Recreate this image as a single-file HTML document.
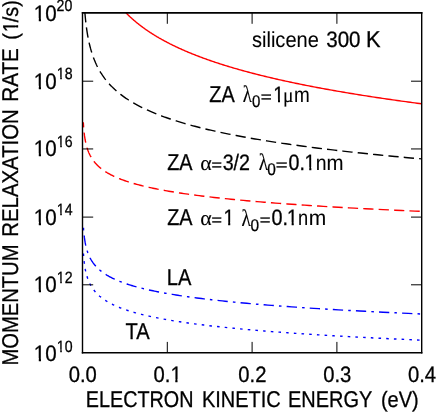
<!DOCTYPE html>
<html><head><meta charset="utf-8"><title>Momentum relaxation rate vs electron kinetic energy (silicene 300 K)</title><style>
html,body{margin:0;padding:0;background:#fff;}
svg{display:block;}
.t{filter:blur(0.35px);}
text{font-family:"Liberation Sans",sans-serif;fill:#000;stroke:#000;stroke-width:0.3px;text-rendering:geometricPrecision;}
</style></head><body>
<svg width="436" height="413" viewBox="0 0 436 413">
<rect width="436" height="413" fill="#fff"/>
<defs><clipPath id="c"><rect x="82.5" y="12.9" width="339.2" height="339.8"/></clipPath>
<clipPath id="o22_2"><path d="M-2,-30H30V-2.78H7.76V2H5.38V-2.78H-2Z"/></clipPath>
<clipPath id="o16_3"><path d="M-2,-30H30V-2.30H5.72V2H3.93V-2.30H-2Z"/></clipPath>
<clipPath id="o21_6"><path d="M-2,-30H30V-2.73H7.55V2H5.24V-2.73H-2Z"/></clipPath>
<clipPath id="o22_3"><path d="M-2,-30H30V-2.78H7.79V2H5.41V-2.78H-2Z"/></clipPath>
</defs>
<g clip-path="url(#c)" fill="none" stroke-width="1.4">
<path d="M126.03,12.90 L126.33,13.20 L126.63,13.51 L126.93,13.81 L127.23,14.11 L127.54,14.42 L127.85,14.72 L128.16,15.02 L128.48,15.32 L128.79,15.63 L129.11,15.93 L129.43,16.23 L129.75,16.54 L130.08,16.84 L130.40,17.14 L130.73,17.45 L131.06,17.75 L131.40,18.05 L131.73,18.35 L132.07,18.66 L132.41,18.96 L132.75,19.26 L133.10,19.57 L133.45,19.87 L133.80,20.17 L134.15,20.48 L134.50,20.78 L134.86,21.08 L135.22,21.38 L135.58,21.69 L135.95,21.99 L136.31,22.29 L136.68,22.60 L137.06,22.90 L137.43,23.20 L137.81,23.51 L138.19,23.81 L138.57,24.11 L138.96,24.41 L139.34,24.72 L139.73,25.02 L140.13,25.32 L140.52,25.63 L140.92,25.93 L141.32,26.23 L141.73,26.54 L142.13,26.84 L142.54,27.14 L142.95,27.44 L143.37,27.75 L143.79,28.05 L144.21,28.35 L144.63,28.66 L145.06,28.96 L145.49,29.26 L145.92,29.57 L146.36,29.87 L146.80,30.17 L147.24,30.47 L147.68,30.78 L148.13,31.08 L148.58,31.38 L149.03,31.69 L149.49,31.99 L149.95,32.29 L150.41,32.60 L150.88,32.90 L151.35,33.20 L151.82,33.50 L152.30,33.81 L152.78,34.11 L153.26,34.41 L153.75,34.72 L154.24,35.02 L154.73,35.32 L155.22,35.63 L155.72,35.93 L156.23,36.23 L156.73,36.53 L157.24,36.84 L157.76,37.14 L158.27,37.44 L158.79,37.75 L159.32,38.05 L159.84,38.35 L160.38,38.66 L160.91,38.96 L161.45,39.26 L161.99,39.56 L162.54,39.87 L163.09,40.17 L163.64,40.47 L164.20,40.78 L164.76,41.08 L165.32,41.38 L165.89,41.69 L166.47,41.99 L167.04,42.29 L167.62,42.59 L168.21,42.90 L168.80,43.20 L169.39,43.50 L169.98,43.81 L170.59,44.11 L171.19,44.41 L171.80,44.72 L172.41,45.02 L173.03,45.32 L173.65,45.62 L174.28,45.93 L174.91,46.23 L175.54,46.53 L176.18,46.84 L176.83,47.14 L177.47,47.44 L178.13,47.75 L178.78,48.05 L179.44,48.35 L180.11,48.65 L180.78,48.96 L181.45,49.26 L182.13,49.56 L182.82,49.87 L183.51,50.17 L184.20,50.47 L184.90,50.78 L185.60,51.08 L186.31,51.38 L187.02,51.68 L187.74,51.99 L188.46,52.29 L189.19,52.59 L189.92,52.90 L190.66,53.20 L191.41,53.50 L192.15,53.81 L192.91,54.11 L193.66,54.41 L194.43,54.71 L195.20,55.02 L195.97,55.32 L196.75,55.62 L197.53,55.93 L198.32,56.23 L199.12,56.53 L199.92,56.83 L200.73,57.14 L201.54,57.44 L202.36,57.74 L203.18,58.05 L204.01,58.35 L204.84,58.65 L205.68,58.96 L206.53,59.26 L207.38,59.56 L208.24,59.86 L209.10,60.17 L209.97,60.47 L210.85,60.77 L211.73,61.08 L212.62,61.38 L213.51,61.68 L214.41,61.99 L215.31,62.29 L216.23,62.59 L217.15,62.89 L218.07,63.20 L219.00,63.50 L219.94,63.80 L220.88,64.11 L221.83,64.41 L222.79,64.71 L223.75,65.02 L224.72,65.32 L225.70,65.62 L226.68,65.92 L227.67,66.23 L228.67,66.53 L229.67,66.83 L230.68,67.14 L231.70,67.44 L232.73,67.74 L233.76,68.05 L234.80,68.35 L235.84,68.65 L236.90,68.95 L237.96,69.26 L239.02,69.56 L240.10,69.86 L241.18,70.17 L242.27,70.47 L243.37,70.77 L244.47,71.08 L245.59,71.38 L246.71,71.68 L247.83,71.98 L248.97,72.29 L250.11,72.59 L251.26,72.89 L252.42,73.20 L253.59,73.50 L254.76,73.80 L255.95,74.11 L257.14,74.41 L258.34,74.71 L259.55,75.01 L260.76,75.32 L261.99,75.62 L263.22,75.92 L264.46,76.23 L265.71,76.53 L266.97,76.83 L268.23,77.14 L269.51,77.44 L270.79,77.74 L272.09,78.04 L273.39,78.35 L274.70,78.65 L276.02,78.95 L277.35,79.26 L278.69,79.56 L280.03,79.86 L281.39,80.17 L282.76,80.47 L284.13,80.77 L285.52,81.07 L286.91,81.38 L288.31,81.68 L289.73,81.98 L291.15,82.29 L292.58,82.59 L294.03,82.89 L295.48,83.20 L296.94,83.50 L298.41,83.80 L299.90,84.10 L301.39,84.41 L302.89,84.71 L304.41,85.01 L305.93,85.32 L307.47,85.62 L309.01,85.92 L310.57,86.23 L312.13,86.53 L313.71,86.83 L315.30,87.13 L316.90,87.44 L318.51,87.74 L320.13,88.04 L321.76,88.35 L323.40,88.65 L325.06,88.95 L326.72,89.26 L328.40,89.56 L330.09,89.86 L331.79,90.17 L333.50,90.47 L335.22,90.77 L336.96,91.07 L338.71,91.38 L340.47,91.68 L342.24,91.98 L344.02,92.29 L345.82,92.59 L347.63,92.89 L349.45,93.19 L351.28,93.50 L353.13,93.80 L354.98,94.10 L356.86,94.41 L358.74,94.71 L360.64,95.01 L362.55,95.32 L364.47,95.62 L366.41,95.92 L368.36,96.23 L370.32,96.53 L372.30,96.83 L374.29,97.13 L376.29,97.44 L378.31,97.74 L380.34,98.04 L382.38,98.35 L384.44,98.65 L386.52,98.95 L388.61,99.26 L390.71,99.56 L392.82,99.86 L394.96,100.16 L397.10,100.47 L399.26,100.77 L401.44,101.07 L403.63,101.38 L405.83,101.68 L408.05,101.98 L410.29,102.29 L412.54,102.59 L414.81,102.89 L417.09,103.19 L419.39,103.50 L421.70,103.80" stroke="#ff0000"/>
<path d="M84.91,12.90 L84.95,13.39 L84.99,13.87 L85.03,14.36 L85.08,14.85 L85.12,15.33 L85.16,15.82 L85.21,16.31 L85.25,16.79 L85.30,17.28 L85.34,17.77 L85.39,18.25 L85.44,18.74 L85.49,19.23 L85.54,19.71 L85.59,20.20 L85.64,20.69 L85.69,21.17 L85.74,21.66 L85.80,22.15 L85.85,22.63 L85.91,23.12 L85.96,23.61 L86.02,24.09 L86.08,24.58 L86.14,25.07 L86.20,25.55 L86.26,26.04 L86.33,26.53 L86.39,27.01 L86.45,27.50 L86.52,27.99 L86.59,28.47 L86.65,28.96 L86.72,29.45 L86.79,29.93 L86.86,30.42 L86.94,30.91 L87.01,31.39 L87.09,31.88 L87.16,32.37 L87.24,32.85 L87.32,33.34 L87.40,33.83 L87.48,34.31 L87.56,34.80 L87.65,35.29 L87.73,35.77 L87.82,36.26 L87.91,36.75 L88.00,37.23 L88.09,37.72 L88.18,38.21 L88.28,38.69 L88.37,39.18 L88.47,39.67 L88.57,40.15 L88.67,40.64 L88.77,41.13 L88.88,41.61 L88.98,42.10 L89.09,42.59 L89.20,43.07 L89.31,43.56 L89.43,44.05 L89.54,44.53 L89.66,45.02 L89.78,45.51 L89.90,45.99 L90.02,46.48 L90.15,46.97 L90.27,47.45 L90.40,47.94 L90.53,48.43 L90.67,48.91 L90.80,49.40 L90.94,49.89 L91.08,50.37 L91.22,50.86 L91.37,51.35 L91.52,51.83 L91.67,52.32 L91.82,52.81 L91.97,53.29 L92.13,53.78 L92.29,54.27 L92.45,54.75 L92.62,55.24 L92.79,55.73 L92.96,56.21 L93.13,56.70 L93.31,57.19 L93.49,57.67 L93.67,58.16 L93.86,58.65 L94.05,59.13 L94.24,59.62 L94.43,60.11 L94.63,60.59 L94.83,61.08 L95.04,61.57 L95.25,62.05 L95.46,62.54 L95.67,63.03 L95.89,63.51 L96.12,64.00 L96.34,64.49 L96.57,64.97 L96.81,65.46 L97.04,65.95 L97.29,66.43 L97.53,66.92 L97.78,67.41 L98.04,67.89 L98.29,68.38 L98.56,68.87 L98.82,69.35 L99.10,69.84 L99.37,70.33 L99.65,70.81 L99.94,71.30 L100.23,71.79 L100.52,72.27 L100.82,72.76 L101.13,73.25 L101.44,73.73 L101.75,74.22 L102.07,74.71 L102.40,75.19 L102.73,75.68 L103.06,76.17 L103.40,76.65 L103.75,77.14 L104.11,77.63 L104.46,78.11 L104.83,78.60 L105.20,79.09 L105.58,79.57 L105.96,80.06 L106.35,80.55 L106.75,81.03 L107.15,81.52 L107.56,82.01 L107.98,82.49 L108.40,82.98 L108.83,83.47 L109.27,83.95 L109.72,84.44 L110.17,84.93 L110.63,85.41 L111.10,85.90 L111.57,86.39 L112.05,86.87 L112.55,87.36 L113.04,87.85 L113.55,88.33 L114.07,88.82 L114.59,89.31 L115.13,89.79 L115.67,90.28 L116.22,90.77 L116.78,91.25 L117.35,91.74 L117.93,92.23 L118.52,92.71 L119.12,93.20 L119.73,93.69 L120.35,94.17 L120.98,94.66 L121.62,95.15 L122.27,95.63 L122.93,96.12 L123.60,96.61 L124.28,97.09 L124.98,97.58 L125.68,98.07 L126.40,98.55 L127.13,99.04 L127.87,99.53 L128.63,100.01 L129.40,100.50 L130.17,100.99 L130.97,101.47 L131.77,101.96 L132.59,102.45 L133.43,102.93 L134.27,103.42 L135.13,103.91 L136.01,104.39 L136.90,104.88 L137.80,105.37 L138.72,105.85 L139.66,106.34 L140.61,106.83 L141.57,107.31 L142.55,107.80 L143.55,108.29 L144.57,108.77 L145.60,109.26 L146.65,109.75 L147.72,110.23 L148.80,110.72 L149.90,111.21 L151.02,111.69 L152.16,112.18 L153.32,112.67 L154.50,113.15 L155.69,113.64 L156.91,114.13 L158.15,114.61 L159.41,115.10 L160.68,115.59 L161.98,116.07 L163.31,116.56 L164.65,117.05 L166.01,117.53 L167.40,118.02 L168.82,118.51 L170.25,118.99 L171.71,119.48 L173.19,119.97 L174.70,120.45 L176.23,120.94 L177.79,121.43 L179.38,121.91 L180.99,122.40 L182.62,122.89 L184.29,123.37 L185.98,123.86 L187.70,124.35 L189.45,124.83 L191.23,125.32 L193.04,125.81 L194.87,126.29 L196.74,126.78 L198.64,127.27 L200.57,127.75 L202.54,128.24 L204.53,128.73 L206.56,129.21 L208.62,129.70 L210.72,130.19 L212.85,130.67 L215.02,131.16 L217.22,131.65 L219.46,132.13 L221.74,132.62 L224.05,133.11 L226.41,133.59 L228.80,134.08 L231.23,134.57 L233.70,135.05 L236.22,135.54 L238.77,136.03 L241.37,136.51 L244.01,137.00 L246.70,137.49 L249.43,137.97 L252.20,138.46 L255.02,138.95 L257.89,139.43 L260.81,139.92 L263.77,140.41 L266.79,140.89 L269.85,141.38 L272.97,141.87 L276.13,142.35 L279.35,142.84 L282.63,143.33 L285.95,143.81 L289.33,144.30 L292.77,144.79 L296.27,145.27 L299.82,145.76 L303.44,146.25 L307.11,146.73 L310.84,147.22 L314.64,147.71 L318.50,148.19 L322.42,148.68 L326.41,149.17 L330.47,149.65 L334.59,150.14 L338.78,150.63 L343.04,151.11 L347.37,151.60 L351.78,152.09 L356.25,152.57 L360.81,153.06 L365.43,153.55 L370.14,154.03 L374.92,154.52 L379.78,155.01 L384.72,155.49 L389.75,155.98 L394.86,156.47 L400.05,156.95 L405.33,157.44 L410.70,157.93 L416.15,158.41 L421.70,158.90" stroke="#000" stroke-dasharray="10.28,5.14" stroke-dashoffset="0.79"/>
<path d="M83.31,122.23 L83.32,122.52 L83.34,122.82 L83.36,123.12 L83.37,123.41 L83.39,123.71 L83.41,124.01 L83.43,124.31 L83.45,124.60 L83.47,124.90 L83.49,125.20 L83.51,125.49 L83.53,125.79 L83.55,126.09 L83.57,126.39 L83.59,126.68 L83.61,126.98 L83.63,127.28 L83.66,127.58 L83.68,127.87 L83.71,128.17 L83.73,128.47 L83.75,128.76 L83.78,129.06 L83.81,129.36 L83.83,129.66 L83.86,129.95 L83.89,130.25 L83.92,130.55 L83.94,130.85 L83.97,131.14 L84.00,131.44 L84.03,131.74 L84.07,132.03 L84.10,132.33 L84.13,132.63 L84.16,132.93 L84.20,133.22 L84.23,133.52 L84.27,133.82 L84.30,134.12 L84.34,134.41 L84.38,134.71 L84.42,135.01 L84.45,135.30 L84.49,135.60 L84.53,135.90 L84.58,136.20 L84.62,136.49 L84.66,136.79 L84.71,137.09 L84.75,137.38 L84.80,137.68 L84.84,137.98 L84.89,138.28 L84.94,138.57 L84.99,138.87 L85.04,139.17 L85.09,139.47 L85.14,139.76 L85.20,140.06 L85.25,140.36 L85.31,140.65 L85.37,140.95 L85.42,141.25 L85.48,141.55 L85.54,141.84 L85.61,142.14 L85.67,142.44 L85.73,142.74 L85.80,143.03 L85.87,143.33 L85.94,143.63 L86.01,143.92 L86.08,144.22 L86.15,144.52 L86.22,144.82 L86.30,145.11 L86.38,145.41 L86.46,145.71 L86.54,146.01 L86.62,146.30 L86.70,146.60 L86.79,146.90 L86.87,147.19 L86.96,147.49 L87.05,147.79 L87.15,148.09 L87.24,148.38 L87.34,148.68 L87.44,148.98 L87.54,149.27 L87.64,149.57 L87.74,149.87 L87.85,150.17 L87.96,150.46 L88.07,150.76 L88.18,151.06 L88.30,151.36 L88.42,151.65 L88.54,151.95 L88.66,152.25 L88.79,152.54 L88.91,152.84 L89.04,153.14 L89.18,153.44 L89.31,153.73 L89.45,154.03 L89.59,154.33 L89.74,154.63 L89.89,154.92 L90.04,155.22 L90.19,155.52 L90.35,155.81 L90.51,156.11 L90.67,156.41 L90.83,156.71 L91.00,157.00 L91.18,157.30 L91.35,157.60 L91.53,157.90 L91.72,158.19 L91.90,158.49 L92.10,158.79 L92.29,159.08 L92.49,159.38 L92.69,159.68 L92.90,159.98 L93.11,160.27 L93.33,160.57 L93.55,160.87 L93.77,161.16 L94.00,161.46 L94.24,161.76 L94.48,162.06 L94.72,162.35 L94.97,162.65 L95.22,162.95 L95.48,163.25 L95.75,163.54 L96.01,163.84 L96.29,164.14 L96.57,164.43 L96.86,164.73 L97.15,165.03 L97.45,165.33 L97.75,165.62 L98.06,165.92 L98.38,166.22 L98.70,166.52 L99.03,166.81 L99.37,167.11 L99.71,167.41 L100.06,167.70 L100.42,168.00 L100.78,168.30 L101.15,168.60 L101.53,168.89 L101.92,169.19 L102.32,169.49 L102.72,169.79 L103.13,170.08 L103.55,170.38 L103.98,170.68 L104.42,170.97 L104.86,171.27 L105.32,171.57 L105.78,171.87 L106.25,172.16 L106.74,172.46 L107.23,172.76 L107.73,173.05 L108.25,173.35 L108.77,173.65 L109.31,173.95 L109.85,174.24 L110.41,174.54 L110.98,174.84 L111.56,175.14 L112.15,175.43 L112.75,175.73 L113.37,176.03 L113.99,176.32 L114.63,176.62 L115.29,176.92 L115.95,177.22 L116.64,177.51 L117.33,177.81 L118.04,178.11 L118.76,178.41 L119.50,178.70 L120.25,179.00 L121.02,179.30 L121.80,179.59 L122.60,179.89 L123.42,180.19 L124.25,180.49 L125.10,180.78 L125.97,181.08 L126.85,181.38 L127.76,181.68 L128.68,181.97 L129.62,182.27 L130.58,182.57 L131.55,182.86 L132.55,183.16 L133.57,183.46 L134.61,183.76 L135.67,184.05 L136.75,184.35 L137.85,184.65 L138.98,184.94 L140.13,185.24 L141.30,185.54 L142.50,185.84 L143.72,186.13 L144.97,186.43 L146.24,186.73 L147.53,187.03 L148.86,187.32 L150.21,187.62 L151.58,187.92 L152.99,188.21 L154.42,188.51 L155.89,188.81 L157.38,189.11 L158.90,189.40 L160.46,189.70 L162.05,190.00 L163.66,190.30 L165.32,190.59 L167.00,190.89 L168.72,191.19 L170.47,191.48 L172.26,191.78 L174.09,192.08 L175.95,192.38 L177.86,192.67 L179.80,192.97 L181.78,193.27 L183.80,193.57 L185.86,193.86 L187.96,194.16 L190.10,194.46 L192.29,194.75 L194.53,195.05 L196.81,195.35 L199.13,195.65 L201.51,195.94 L203.93,196.24 L206.40,196.54 L208.92,196.83 L211.49,197.13 L214.12,197.43 L216.79,197.73 L219.53,198.02 L222.31,198.32 L225.16,198.62 L228.06,198.92 L231.02,199.21 L234.05,199.51 L237.13,199.81 L240.28,200.10 L243.49,200.40 L246.76,200.70 L250.10,201.00 L253.51,201.29 L256.99,201.59 L260.54,201.89 L264.17,202.19 L267.86,202.48 L271.63,202.78 L275.48,203.08 L279.41,203.37 L283.42,203.67 L287.50,203.97 L291.67,204.27 L295.93,204.56 L300.27,204.86 L304.70,205.16 L309.23,205.46 L313.84,205.75 L318.55,206.05 L323.35,206.35 L328.25,206.64 L333.25,206.94 L338.35,207.24 L343.56,207.54 L348.87,207.83 L354.29,208.13 L359.82,208.43 L365.46,208.72 L371.22,209.02 L377.09,209.32 L383.09,209.62 L389.20,209.91 L395.44,210.21 L401.81,210.51 L408.31,210.81 L414.94,211.10 L421.70,211.40" stroke="#ff0000" stroke-dasharray="10.28,5.14" stroke-dashoffset="5.10"/>
<path d="M83.31,224.83 L83.32,225.12 L83.34,225.42 L83.36,225.72 L83.37,226.01 L83.39,226.31 L83.41,226.61 L83.43,226.91 L83.45,227.20 L83.47,227.50 L83.49,227.80 L83.51,228.09 L83.53,228.39 L83.55,228.69 L83.57,228.99 L83.59,229.28 L83.61,229.58 L83.63,229.88 L83.66,230.18 L83.68,230.47 L83.71,230.77 L83.73,231.07 L83.75,231.36 L83.78,231.66 L83.81,231.96 L83.83,232.26 L83.86,232.55 L83.89,232.85 L83.92,233.15 L83.94,233.45 L83.97,233.74 L84.00,234.04 L84.03,234.34 L84.07,234.63 L84.10,234.93 L84.13,235.23 L84.16,235.53 L84.20,235.82 L84.23,236.12 L84.27,236.42 L84.30,236.72 L84.34,237.01 L84.38,237.31 L84.42,237.61 L84.45,237.90 L84.49,238.20 L84.53,238.50 L84.58,238.80 L84.62,239.09 L84.66,239.39 L84.71,239.69 L84.75,239.98 L84.80,240.28 L84.84,240.58 L84.89,240.88 L84.94,241.17 L84.99,241.47 L85.04,241.77 L85.09,242.07 L85.14,242.36 L85.20,242.66 L85.25,242.96 L85.31,243.25 L85.37,243.55 L85.42,243.85 L85.48,244.15 L85.54,244.44 L85.61,244.74 L85.67,245.04 L85.73,245.34 L85.80,245.63 L85.87,245.93 L85.94,246.23 L86.01,246.52 L86.08,246.82 L86.15,247.12 L86.22,247.42 L86.30,247.71 L86.38,248.01 L86.46,248.31 L86.54,248.61 L86.62,248.90 L86.70,249.20 L86.79,249.50 L86.87,249.79 L86.96,250.09 L87.05,250.39 L87.15,250.69 L87.24,250.98 L87.34,251.28 L87.44,251.58 L87.54,251.87 L87.64,252.17 L87.74,252.47 L87.85,252.77 L87.96,253.06 L88.07,253.36 L88.18,253.66 L88.30,253.96 L88.42,254.25 L88.54,254.55 L88.66,254.85 L88.79,255.14 L88.91,255.44 L89.04,255.74 L89.18,256.04 L89.31,256.33 L89.45,256.63 L89.59,256.93 L89.74,257.23 L89.89,257.52 L90.04,257.82 L90.19,258.12 L90.35,258.41 L90.51,258.71 L90.67,259.01 L90.83,259.31 L91.00,259.60 L91.18,259.90 L91.35,260.20 L91.53,260.50 L91.72,260.79 L91.90,261.09 L92.10,261.39 L92.29,261.68 L92.49,261.98 L92.69,262.28 L92.90,262.58 L93.11,262.87 L93.33,263.17 L93.55,263.47 L93.77,263.76 L94.00,264.06 L94.24,264.36 L94.48,264.66 L94.72,264.95 L94.97,265.25 L95.22,265.55 L95.48,265.85 L95.75,266.14 L96.01,266.44 L96.29,266.74 L96.57,267.03 L96.86,267.33 L97.15,267.63 L97.45,267.93 L97.75,268.22 L98.06,268.52 L98.38,268.82 L98.70,269.12 L99.03,269.41 L99.37,269.71 L99.71,270.01 L100.06,270.30 L100.42,270.60 L100.78,270.90 L101.15,271.20 L101.53,271.49 L101.92,271.79 L102.32,272.09 L102.72,272.39 L103.13,272.68 L103.55,272.98 L103.98,273.28 L104.42,273.57 L104.86,273.87 L105.32,274.17 L105.78,274.47 L106.25,274.76 L106.74,275.06 L107.23,275.36 L107.73,275.65 L108.25,275.95 L108.77,276.25 L109.31,276.55 L109.85,276.84 L110.41,277.14 L110.98,277.44 L111.56,277.74 L112.15,278.03 L112.75,278.33 L113.37,278.63 L113.99,278.92 L114.63,279.22 L115.29,279.52 L115.95,279.82 L116.64,280.11 L117.33,280.41 L118.04,280.71 L118.76,281.01 L119.50,281.30 L120.25,281.60 L121.02,281.90 L121.80,282.19 L122.60,282.49 L123.42,282.79 L124.25,283.09 L125.10,283.38 L125.97,283.68 L126.85,283.98 L127.76,284.28 L128.68,284.57 L129.62,284.87 L130.58,285.17 L131.55,285.46 L132.55,285.76 L133.57,286.06 L134.61,286.36 L135.67,286.65 L136.75,286.95 L137.85,287.25 L138.98,287.54 L140.13,287.84 L141.30,288.14 L142.50,288.44 L143.72,288.73 L144.97,289.03 L146.24,289.33 L147.53,289.63 L148.86,289.92 L150.21,290.22 L151.58,290.52 L152.99,290.81 L154.42,291.11 L155.89,291.41 L157.38,291.71 L158.90,292.00 L160.46,292.30 L162.05,292.60 L163.66,292.90 L165.32,293.19 L167.00,293.49 L168.72,293.79 L170.47,294.08 L172.26,294.38 L174.09,294.68 L175.95,294.98 L177.86,295.27 L179.80,295.57 L181.78,295.87 L183.80,296.17 L185.86,296.46 L187.96,296.76 L190.10,297.06 L192.29,297.35 L194.53,297.65 L196.81,297.95 L199.13,298.25 L201.51,298.54 L203.93,298.84 L206.40,299.14 L208.92,299.43 L211.49,299.73 L214.12,300.03 L216.79,300.33 L219.53,300.62 L222.31,300.92 L225.16,301.22 L228.06,301.52 L231.02,301.81 L234.05,302.11 L237.13,302.41 L240.28,302.70 L243.49,303.00 L246.76,303.30 L250.10,303.60 L253.51,303.89 L256.99,304.19 L260.54,304.49 L264.17,304.79 L267.86,305.08 L271.63,305.38 L275.48,305.68 L279.41,305.97 L283.42,306.27 L287.50,306.57 L291.67,306.87 L295.93,307.16 L300.27,307.46 L304.70,307.76 L309.23,308.06 L313.84,308.35 L318.55,308.65 L323.35,308.95 L328.25,309.24 L333.25,309.54 L338.35,309.84 L343.56,310.14 L348.87,310.43 L354.29,310.73 L359.82,311.03 L365.46,311.32 L371.22,311.62 L377.09,311.92 L383.09,312.22 L389.20,312.51 L395.44,312.81 L401.81,313.11 L408.31,313.41 L414.94,313.70 L421.70,314.00" stroke="#0000ff" stroke-dasharray="10.28,5.14,2.57,5.14" stroke-dashoffset="12.43"/>
<path d="M83.31,251.03 L83.32,251.32 L83.34,251.62 L83.36,251.92 L83.37,252.21 L83.39,252.51 L83.41,252.81 L83.43,253.11 L83.45,253.40 L83.47,253.70 L83.49,254.00 L83.51,254.29 L83.53,254.59 L83.55,254.89 L83.57,255.19 L83.59,255.48 L83.61,255.78 L83.63,256.08 L83.66,256.38 L83.68,256.67 L83.71,256.97 L83.73,257.27 L83.75,257.56 L83.78,257.86 L83.81,258.16 L83.83,258.46 L83.86,258.75 L83.89,259.05 L83.92,259.35 L83.94,259.65 L83.97,259.94 L84.00,260.24 L84.03,260.54 L84.07,260.83 L84.10,261.13 L84.13,261.43 L84.16,261.73 L84.20,262.02 L84.23,262.32 L84.27,262.62 L84.30,262.92 L84.34,263.21 L84.38,263.51 L84.42,263.81 L84.45,264.10 L84.49,264.40 L84.53,264.70 L84.58,265.00 L84.62,265.29 L84.66,265.59 L84.71,265.89 L84.75,266.18 L84.80,266.48 L84.84,266.78 L84.89,267.08 L84.94,267.37 L84.99,267.67 L85.04,267.97 L85.09,268.27 L85.14,268.56 L85.20,268.86 L85.25,269.16 L85.31,269.45 L85.37,269.75 L85.42,270.05 L85.48,270.35 L85.54,270.64 L85.61,270.94 L85.67,271.24 L85.73,271.54 L85.80,271.83 L85.87,272.13 L85.94,272.43 L86.01,272.72 L86.08,273.02 L86.15,273.32 L86.22,273.62 L86.30,273.91 L86.38,274.21 L86.46,274.51 L86.54,274.81 L86.62,275.10 L86.70,275.40 L86.79,275.70 L86.87,275.99 L86.96,276.29 L87.05,276.59 L87.15,276.89 L87.24,277.18 L87.34,277.48 L87.44,277.78 L87.54,278.07 L87.64,278.37 L87.74,278.67 L87.85,278.97 L87.96,279.26 L88.07,279.56 L88.18,279.86 L88.30,280.16 L88.42,280.45 L88.54,280.75 L88.66,281.05 L88.79,281.34 L88.91,281.64 L89.04,281.94 L89.18,282.24 L89.31,282.53 L89.45,282.83 L89.59,283.13 L89.74,283.43 L89.89,283.72 L90.04,284.02 L90.19,284.32 L90.35,284.61 L90.51,284.91 L90.67,285.21 L90.83,285.51 L91.00,285.80 L91.18,286.10 L91.35,286.40 L91.53,286.70 L91.72,286.99 L91.90,287.29 L92.10,287.59 L92.29,287.88 L92.49,288.18 L92.69,288.48 L92.90,288.78 L93.11,289.07 L93.33,289.37 L93.55,289.67 L93.77,289.96 L94.00,290.26 L94.24,290.56 L94.48,290.86 L94.72,291.15 L94.97,291.45 L95.22,291.75 L95.48,292.05 L95.75,292.34 L96.01,292.64 L96.29,292.94 L96.57,293.23 L96.86,293.53 L97.15,293.83 L97.45,294.13 L97.75,294.42 L98.06,294.72 L98.38,295.02 L98.70,295.32 L99.03,295.61 L99.37,295.91 L99.71,296.21 L100.06,296.50 L100.42,296.80 L100.78,297.10 L101.15,297.40 L101.53,297.69 L101.92,297.99 L102.32,298.29 L102.72,298.59 L103.13,298.88 L103.55,299.18 L103.98,299.48 L104.42,299.77 L104.86,300.07 L105.32,300.37 L105.78,300.67 L106.25,300.96 L106.74,301.26 L107.23,301.56 L107.73,301.85 L108.25,302.15 L108.77,302.45 L109.31,302.75 L109.85,303.04 L110.41,303.34 L110.98,303.64 L111.56,303.94 L112.15,304.23 L112.75,304.53 L113.37,304.83 L113.99,305.12 L114.63,305.42 L115.29,305.72 L115.95,306.02 L116.64,306.31 L117.33,306.61 L118.04,306.91 L118.76,307.21 L119.50,307.50 L120.25,307.80 L121.02,308.10 L121.80,308.39 L122.60,308.69 L123.42,308.99 L124.25,309.29 L125.10,309.58 L125.97,309.88 L126.85,310.18 L127.76,310.48 L128.68,310.77 L129.62,311.07 L130.58,311.37 L131.55,311.66 L132.55,311.96 L133.57,312.26 L134.61,312.56 L135.67,312.85 L136.75,313.15 L137.85,313.45 L138.98,313.74 L140.13,314.04 L141.30,314.34 L142.50,314.64 L143.72,314.93 L144.97,315.23 L146.24,315.53 L147.53,315.83 L148.86,316.12 L150.21,316.42 L151.58,316.72 L152.99,317.01 L154.42,317.31 L155.89,317.61 L157.38,317.91 L158.90,318.20 L160.46,318.50 L162.05,318.80 L163.66,319.10 L165.32,319.39 L167.00,319.69 L168.72,319.99 L170.47,320.28 L172.26,320.58 L174.09,320.88 L175.95,321.18 L177.86,321.47 L179.80,321.77 L181.78,322.07 L183.80,322.37 L185.86,322.66 L187.96,322.96 L190.10,323.26 L192.29,323.55 L194.53,323.85 L196.81,324.15 L199.13,324.45 L201.51,324.74 L203.93,325.04 L206.40,325.34 L208.92,325.63 L211.49,325.93 L214.12,326.23 L216.79,326.53 L219.53,326.82 L222.31,327.12 L225.16,327.42 L228.06,327.72 L231.02,328.01 L234.05,328.31 L237.13,328.61 L240.28,328.90 L243.49,329.20 L246.76,329.50 L250.10,329.80 L253.51,330.09 L256.99,330.39 L260.54,330.69 L264.17,330.99 L267.86,331.28 L271.63,331.58 L275.48,331.88 L279.41,332.17 L283.42,332.47 L287.50,332.77 L291.67,333.07 L295.93,333.36 L300.27,333.66 L304.70,333.96 L309.23,334.26 L313.84,334.55 L318.55,334.85 L323.35,335.15 L328.25,335.44 L333.25,335.74 L338.35,336.04 L343.56,336.34 L348.87,336.63 L354.29,336.93 L359.82,337.23 L365.46,337.52 L371.22,337.82 L377.09,338.12 L383.09,338.42 L389.20,338.71 L395.44,339.01 L401.81,339.31 L408.31,339.61 L414.94,339.90 L421.70,340.20" stroke="#0000ff" stroke-dasharray="2.57,5.14" stroke-dashoffset="5.23"/>
</g>
<g stroke="#000" stroke-width="1" fill="none">
<path d="M82.5,81.20h10.7 M421.7,81.20h-10.7"/>
<path d="M82.5,148.95h10.7 M421.7,148.95h-10.7"/>
<path d="M82.5,217.10h10.7 M421.7,217.10h-10.7"/>
<path d="M82.5,284.80h10.7 M421.7,284.80h-10.7"/>
<path d="M167.30,12.9v10.9 M167.30,352.7v-10.8"/>
<path d="M252.10,12.9v10.9 M252.10,352.7v-10.8"/>
<path d="M336.90,12.9v10.9 M336.90,352.7v-10.8"/>
</g>
<path d="M82.5,12.1V353.5M421.7,12.1V353.5" fill="none" stroke="#000" stroke-width="1.4"/>
<path d="M81.8,12.9H422.4M81.8,352.7H422.4" fill="none" stroke="#000" stroke-width="1.65"/>
<g class="t">
<text transform="translate(33.82,21.00) scale(0.9271,1)" font-size="22.2" clip-path="url(#o22_2)">1</text>
<text transform="translate(45.27,21.00) scale(0.9271,1)" font-size="22.2">0</text>
<text transform="translate(56.54,11.40) scale(0.8667,1)" font-size="16.3">20</text>
<text transform="translate(33.82,88.60) scale(0.9271,1)" font-size="22.2" clip-path="url(#o22_2)">1</text>
<text transform="translate(45.27,88.60) scale(0.9271,1)" font-size="22.2">0</text>
<text transform="translate(56.84,79.20) scale(0.8667,1)" font-size="16.3" clip-path="url(#o16_3)">1</text>
<text transform="translate(64.69,79.20) scale(0.8667,1)" font-size="16.3">8</text>
<text transform="translate(33.82,156.35) scale(0.9271,1)" font-size="22.2" clip-path="url(#o22_2)">1</text>
<text transform="translate(45.27,156.35) scale(0.9271,1)" font-size="22.2">0</text>
<text transform="translate(56.84,146.95) scale(0.8667,1)" font-size="16.3" clip-path="url(#o16_3)">1</text>
<text transform="translate(64.69,146.95) scale(0.8667,1)" font-size="16.3">6</text>
<text transform="translate(33.82,224.50) scale(0.9271,1)" font-size="22.2" clip-path="url(#o22_2)">1</text>
<text transform="translate(45.27,224.50) scale(0.9271,1)" font-size="22.2">0</text>
<text transform="translate(56.84,215.10) scale(0.8667,1)" font-size="16.3" clip-path="url(#o16_3)">1</text>
<text transform="translate(64.69,215.10) scale(0.8667,1)" font-size="16.3">4</text>
<text transform="translate(33.82,292.20) scale(0.9271,1)" font-size="22.2" clip-path="url(#o22_2)">1</text>
<text transform="translate(45.27,292.20) scale(0.9271,1)" font-size="22.2">0</text>
<text transform="translate(56.84,282.80) scale(0.8667,1)" font-size="16.3" clip-path="url(#o16_3)">1</text>
<text transform="translate(64.69,282.80) scale(0.8667,1)" font-size="16.3">2</text>
<text transform="translate(33.82,360.95) scale(0.9271,1)" font-size="22.2" clip-path="url(#o22_2)">1</text>
<text transform="translate(45.27,360.95) scale(0.9271,1)" font-size="22.2">0</text>
<text transform="translate(56.84,351.50) scale(0.8667,1)" font-size="16.3" clip-path="url(#o16_3)">1</text>
<text transform="translate(64.69,351.50) scale(0.8667,1)" font-size="16.3">0</text>
<text transform="translate(68.73,382.10) scale(0.9117,1)" font-size="22.2">0.0</text>
<text transform="translate(153.53,382.10) scale(0.9117,1)" font-size="22.2">0.</text>
<text transform="translate(170.41,382.10) scale(0.9117,1)" font-size="22.2" clip-path="url(#o22_2)">1</text>
<text transform="translate(238.33,382.10) scale(0.9117,1)" font-size="22.2">0.2</text>
<text transform="translate(323.13,382.10) scale(0.9117,1)" font-size="22.2">0.3</text>
<text transform="translate(407.93,382.10) scale(0.9117,1)" font-size="22.2">0.4</text>
<text transform="translate(85.86,406.90) scale(0.8671,1)" font-size="22.8">ELECTRON</text>
<text transform="translate(201.94,406.90) scale(0.8756,1)" font-size="22.8">KINETIC</text>
<text transform="translate(288.04,406.90) scale(0.8752,1)" font-size="22.8">ENERGY</text>
<text transform="translate(380.96,406.90) scale(0.9006,1)" font-size="22.2">(eV)</text>
<text transform="translate(17.90,365.58) rotate(-90) scale(0.8849,1)" font-size="22.8">MOMENTUM</text>
<text transform="translate(17.90,236.69) rotate(-90) scale(0.8929,1)" font-size="22.8">RELAXATION</text>
<text transform="translate(17.90,101.71) rotate(-90) scale(0.9064,1)" font-size="22.8">RATE</text>
<text transform="translate(17.90,39.83) rotate(-90) scale(0.9155,1)" font-size="21.6">(</text>
<text transform="translate(17.90,32.24) rotate(-90) scale(0.9155,1)" font-size="21.6" clip-path="url(#o21_6)">1</text>
<text transform="translate(17.90,22.24) rotate(-90) scale(0.9155,1)" font-size="21.6">/s)</text>
<text transform="translate(251.99,47.40) scale(0.9192,1)" font-size="21.799999999999997" style="stroke-width:0.1px">silicene</text>
<text transform="translate(326.26,47.40) scale(0.9206,1)" font-size="22.3">300</text>
<text transform="translate(366.00,47.40) scale(0.9476,1)" font-size="23.0">K</text>
<text transform="translate(209.28,101.50) scale(0.8651,1)" font-size="23.0">ZA</text>
<text transform="translate(242.71,102.10) scale(0.7855,1)" font-size="23.9" style="font-family:'Liberation Serif',serif;stroke-width:0.1px">λ</text>
<text transform="translate(252.03,106.80) scale(0.8824,1)" font-size="17.0">0</text>
<text transform="translate(260.72,101.70) scale(1.2129,1)" font-size="15.5">=</text>
<text transform="translate(273.32,101.50) scale(0.8600,1)" font-size="22.3" clip-path="url(#o22_3)">1</text>
<text transform="translate(282.96,101.50) scale(0.9597,1)" font-size="20.5" style="font-family:'Liberation Serif',serif;stroke-width:0.1px">μ</text>
<text transform="translate(294.12,101.50) scale(0.8842,1)" font-size="21.4" style="stroke-width:0.1px">m</text>
<text transform="translate(167.18,169.70) scale(0.8616,1)" font-size="23.0">ZA</text>
<text transform="translate(200.32,169.70) scale(1.0421,1)" font-size="21.0" style="font-family:'Liberation Serif',serif;stroke-width:0.1px">α</text>
<text transform="translate(211.56,169.90) scale(1.1613,1)" font-size="15.5">=</text>
<text transform="translate(222.69,169.70) scale(0.8810,1)" font-size="22.3">3/2</text>
<text transform="translate(258.70,170.30) scale(0.8033,1)" font-size="23.9" style="font-family:'Liberation Serif',serif;stroke-width:0.1px">λ</text>
<text transform="translate(267.22,175.00) scale(0.9059,1)" font-size="17.0">0</text>
<text transform="translate(275.75,169.90) scale(1.3032,1)" font-size="15.5">=</text>
<text transform="translate(288.59,169.70) scale(0.8812,1)" font-size="22.3">0.</text>
<text transform="translate(304.62,169.70) scale(0.8600,1)" font-size="22.3" clip-path="url(#o22_3)">1</text>
<text transform="translate(315.69,169.70) scale(0.9079,1)" font-size="21.4" style="stroke-width:0.1px">n</text>
<text transform="translate(326.62,169.70) scale(0.9557,1)" font-size="21.4" style="stroke-width:0.1px">m</text>
<text transform="translate(167.18,225.20) scale(0.8616,1)" font-size="23.0">ZA</text>
<text transform="translate(200.32,225.20) scale(1.0421,1)" font-size="21.0" style="font-family:'Liberation Serif',serif;stroke-width:0.1px">α</text>
<text transform="translate(211.56,225.40) scale(1.1613,1)" font-size="15.5">=</text>
<text transform="translate(223.52,225.20) scale(0.8600,1)" font-size="22.3" clip-path="url(#o22_3)">1</text>
<text transform="translate(241.40,225.80) scale(0.8033,1)" font-size="23.9" style="font-family:'Liberation Serif',serif;stroke-width:0.1px">λ</text>
<text transform="translate(250.42,230.50) scale(0.9059,1)" font-size="17.0">0</text>
<text transform="translate(259.74,225.40) scale(1.1871,1)" font-size="15.5">=</text>
<text transform="translate(271.48,225.20) scale(0.8875,1)" font-size="22.3">0.</text>
<text transform="translate(287.02,225.20) scale(0.8600,1)" font-size="22.3" clip-path="url(#o22_3)">1</text>
<text transform="translate(298.06,225.20) scale(0.8545,1)" font-size="21.4" style="stroke-width:0.1px">n</text>
<text transform="translate(308.69,225.20) scale(0.9817,1)" font-size="21.4" style="stroke-width:0.1px">m</text>
<text transform="translate(166.73,284.80) scale(0.8811,1)" font-size="22.8">LA</text>
<text transform="translate(125.39,339.40) scale(0.8824,1)" font-size="22.8">TA</text>
</g>
</svg>
</body></html>
